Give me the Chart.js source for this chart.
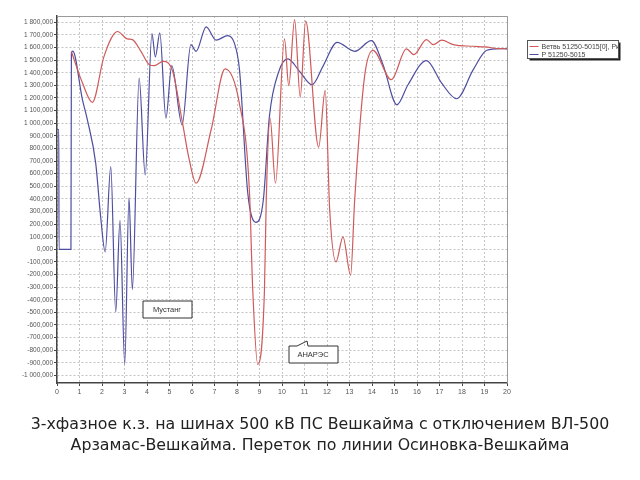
<!DOCTYPE html>
<html>
<head>
<meta charset="utf-8">
<script src="https://cdn.jsdelivr.net/npm/chart.js@4"></script>
<style>
    html, body { margin: 0; padding: 0; background: #fff; }
    #wrap { position: relative; width: 640px; height: 480px; }
    #chart { position: absolute; left: 0; top: 0; }
    #title {
        position: absolute; left: 0; top: 413px; width: 640px;
        text-align: center; font-family: 'DejaVu Sans', sans-serif;
        font-size: 15.8px; line-height: 21px; color: #222;
    }
</style>
</head>
<body>
<div id="wrap">
    <canvas id="chart" width="640" height="480"></canvas>
    <div id="title">3-хфазное к.з. на шинах 500 кВ ПС Вешкайма с отключением ВЛ-500<br>Арзамас-Вешкайма. Переток по линии Осиновка-Вешкайма</div>
</div>
<script>
// time, s and power, MW
const redLabel = 'Ветвь 51250-5015[0], Рк'
const redT = [0.65, 1.13, 1.57, 2.09, 2.69, 3.13, 3.35, 3.73, 4.1, 4.32, 4.72, 5.14, 5.58, 5.88, 6.18, 6.85, 7.47, 8.1, 8.55, 8.7, 8.92, 9.22, 9.3, 9.47, 9.71, 10.11, 10.3, 10.56, 10.81, 11.05, 11.63, 11.92, 12.12, 12.4, 12.71, 13.05, 13.23, 13.67, 14.04, 14.86, 15.53, 15.86, 16.42, 16.72, 17.1, 17.61, 18.5, 19.02, 19.69, 20]
const redP = [1562, 1320, 1165, 1530, 1727, 1668, 1663, 1570, 1464, 1456, 1490, 1411, 1000, 709, 524, 948, 1430, 1162, 470, -324, -913, -324, 391, 1040, 524, 1668, 1297, 1822, 1207, 1809, 810, 1260, 312, -99, 99, -205, 391, 1371, 1578, 1345, 1589, 1544, 1663, 1623, 1658, 1623, 1610, 1605, 1591, 1590]

const blueLabel = 'P 51250-5015'
const blueT = [0, 0.08, 0.09, 0.62, 0.64, 0.7, 1.13, 1.35, 1.72, 1.94, 2.14, 2.39, 2.61, 2.8, 3.01, 3.2, 3.35, 3.65, 3.92, 4.22, 4.37, 4.57, 4.84, 5.1, 5.56, 5.95, 6.18, 6.63, 7.07, 7.59, 7.88, 8.11, 8.48, 8.84, 9.17, 9.44, 9.86, 10.26, 10.78, 11.34, 11.82, 12.45, 13.23, 13.97, 14.49, 15.11, 15.6, 16.42, 17.09, 17.76, 18.5, 19.1, 19.69, 20]
const blueP = [950, 950, 0, 0, 1560, 1572, 1186, 1027, 683, 258, -20, 656, -497, 230, -912, 408, -319, 1358, 590, 1711, 1525, 1716, 1040, 1456, 987, 1623, 1570, 1764, 1658, 1695, 1637, 1425, 444, 214, 391, 1053, 1411, 1510, 1411, 1305, 1451, 1641, 1570, 1655, 1464, 1146, 1305, 1496, 1319, 1194, 1425, 1578, 1591, 1590]

const yTicks = [-1000, -900, -800, -700, -600, -500, -400, -300, -200, -100, 0, 100, 200, 300, 400, 500, 600, 700, 800, 900, 1000, 1100, 1200, 1300, 1400, 1500, 1600, 1700, 1800]

const noteText = ['Мустанг', 'АНАРЭС']
const noteT = [4.88, 11.38]
const noteP = [-472, -832]

const RED = '#d05a5a'
const BLUE = '#4e4ea0'

function toPoints(ts, ps) {
    return ts.map((t, i) => ({ x: t, y: ps[i] }))
}

function fmt(v) {
    const s = Math.abs(v).toString().replace(/\B(?=(\d{3})+(?!\d))/g, ' ')
    return (v < 0 ? '-' : '') + s + ',000'
}

const framePlugin = {
    id: 'frame',
    afterDatasetsDraw(chart) {
        const { ctx, chartArea: a, scales } = chart
        ctx.save()
        ctx.strokeStyle = '#9a9a9a'
        ctx.lineWidth = 1
        ctx.beginPath()
        ctx.moveTo(a.left, a.top + 0.5)
        ctx.lineTo(a.right + 0.5, a.top + 0.5)
        ctx.lineTo(a.right + 0.5, a.bottom)
        ctx.stroke()

        // annotation boxes
        ctx.font = '7.5px "Liberation Sans", Arial'
        ctx.textAlign = 'center'
        ctx.textBaseline = 'middle'
        noteText.forEach((txt, i) => {
            const cx = Math.round(scales.x.getPixelForValue(noteT[i]))
            const cy = Math.round(scales.y.getPixelForValue(noteP[i]))
            const w = 49, h = 17
            const x0 = cx - w / 2 + 0.5, y0 = cy - h / 2 + 0.5
            ctx.fillStyle = '#fff'
            ctx.fillRect(x0, y0, w, h)
            ctx.strokeStyle = '#333'
            ctx.beginPath()
            if (i === 1) {
                ctx.moveTo(x0, y0)
                ctx.lineTo(x0 + 8, y0)
                ctx.lineTo(x0 + 18, y0 - 5)
                ctx.lineTo(x0 + 19, y0)
                ctx.lineTo(x0 + w, y0)
                ctx.lineTo(x0 + w, y0 + h)
                ctx.lineTo(x0, y0 + h)
                ctx.closePath()
            } else {
                ctx.rect(x0, y0, w, h)
            }
            ctx.stroke()
            ctx.fillStyle = '#333'
            ctx.fillText(txt, cx, cy + 1)
        })

        // legend
        const lx = 527.5, ly = 40.5, lw = 91, lh = 18
        ctx.fillStyle = '#222'
        ctx.fillRect(lx + 2, ly + 2, lw, lh)
        ctx.fillStyle = '#fff'
        ctx.fillRect(lx, ly, lw, lh)
        ctx.strokeStyle = '#555'
        ctx.strokeRect(lx, ly, lw, lh)
        ctx.beginPath()
        ctx.rect(lx, ly, lw, lh)
        ctx.clip()
        ctx.font = '7px "Liberation Sans", Arial'
        ctx.textAlign = 'left'
        const items = [[redLabel, RED], [blueLabel, BLUE]]
        items.forEach((it, i) => {
            const y = Math.round(ly + 5 + i * 8.5) + 0.5
            ctx.strokeStyle = it[1]
            ctx.beginPath()
            ctx.moveTo(lx + 2, y)
            ctx.lineTo(lx + 11, y)
            ctx.stroke()
            ctx.fillStyle = '#444'
            ctx.fillText(it[0], lx + 14, y + 0.5)
        })
        ctx.restore()
    },
}

Chart.defaults.font.family = '"Liberation Sans", Arial, sans-serif'

new Chart(document.getElementById('chart'), {
    type: 'line',
    data: {
        datasets: [
            {
                label: redLabel,
                data: toPoints(redT, redP),
                borderColor: RED,
                borderWidth: 1.2,
                pointRadius: 0,
                cubicInterpolationMode: 'monotone',
            },
            {
                label: blueLabel,
                data: toPoints(blueT, blueP),
                borderColor: BLUE,
                borderWidth: 1.2,
                pointRadius: 0,
                cubicInterpolationMode: 'monotone',
            },
        ],
    },
    options: {
        responsive: false,
        animation: false,
        events: [],
        layout: { padding: { left: 0, right: 133, top: 16, bottom: 77 } },
        plugins: { legend: { display: false }, tooltip: { enabled: false } },
        scales: {
            x: {
                type: 'linear',
                min: 0,
                max: 20,
                ticks: { stepSize: 1, font: { size: 7 }, color: '#555', padding: 2, maxRotation: 0 },
                grid: { color: '#c4c4c4', tickLength: 3, tickColor: '#444' },
                border: { color: '#444', width: 1.5, dash: [2, 2] },
                afterFit(scale) { scale.height = 20 },
            },
            y: {
                min: -1060,
                max: 1850,
                afterBuildTicks(scale) {
                    scale.ticks = yTicks.map((v) => ({ value: v }))
                },
                ticks: { font: { size: 6.5 }, color: '#555', padding: 1, callback: (v) => fmt(v) },
                grid: { color: '#c4c4c4', tickLength: 3, tickColor: '#444' },
                border: { color: '#444', width: 1.5, dash: [2, 2] },
                afterFit(scale) { scale.width = 57 },
            },
        },
    },
    plugins: [framePlugin],
})
</script>
</body>
</html>
